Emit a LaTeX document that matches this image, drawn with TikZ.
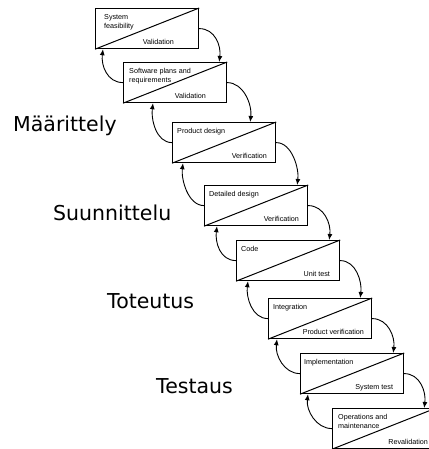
\documentclass[tikz,border=0pt]{standalone}
\usepackage{fontspec}
\setmainfont{Liberation Sans}
\newfontfamily\labelfont{DejaVu Sans}
\usetikzlibrary{arrows.meta,calc}
\begin{document}
\begin{tikzpicture}[x=1pt,y=-1pt,
  stagebox/.style={draw, line width=1.2pt, rectangle, minimum width=103pt, minimum height=40pt, anchor=north west, inner sep=0pt},
  diag/.style={line width=1pt},
  toptext/.style={anchor=north west, align=left, inner sep=0pt, font=\fontsize{7.2}{9}\selectfont},
  bottext/.style={anchor=base east, inner sep=0pt, font=\fontsize{7.2}{9}\selectfont},
  phase/.style={anchor=base west, inner sep=0pt, font=\labelfont\fontsize{20.5}{24}\selectfont},
  flow/.style={-{Latex[length=6pt,width=5pt]}, line width=0.9pt},
]
\useasboundingbox (0,0) rectangle (428,449);
% boxes
\node[stagebox] (b1) at (95,8) {};
\node[stagebox] (b2) at (123,62) {};
\node[stagebox] (b3) at (172,122) {};
\node[stagebox] (b4) at (204,185) {};
\node[stagebox] (b5) at (236,240) {};
\node[stagebox] (b6) at (268,298) {};
\node[stagebox] (b7) at (300,353) {};
\node[stagebox] (b8) at (332,408) {};
\foreach \b in {b1,b2,b3,b4,b5,b6,b7,b8}{
  \draw[diag] (\b.south west) -- (\b.north east);
}
% texts
\node[toptext] (t1) at ($(b1.north west)+(9,6)$) {System\\feasibility};
\node[bottext] (u1) at ($(b1.south east)+(-25,-5)$) {Validation};
\node[toptext] (t2) at ($(b2.north west)+(6,6)$) {Software plans and\\requirements};
\node[bottext] (u2) at ($(b2.south east)+(-21,-5)$) {Validation};
\node[toptext] (t3) at ($(b3.north west)+(5,6)$) {Product design};
\node[bottext] (u3) at ($(b3.south east)+(-9,-5)$) {Verification};
\node[toptext] (t4) at ($(b4.north west)+(5,6)$) {Detailed design};
\node[bottext] (u4) at ($(b4.south east)+(-9,-5)$) {Verification};
\node[toptext] (t5) at ($(b5.north west)+(5,6)$) {Code};
\node[bottext] (u5) at ($(b5.south east)+(-10,-5)$) {Unit test};
\node[toptext] (t6) at ($(b6.north west)+(5,6)$) {Integration};
\node[bottext] (u6) at ($(b6.south east)+(-8,-5)$) {Product verification};
\node[toptext] (t7) at ($(b7.north west)+(4,6)$) {Implementation};
\node[bottext] (u7) at ($(b7.south east)+(-11,-5)$) {System test};
\node[toptext] (t8) at ($(b8.north west)+(6,6)$) {Operations and\\maintenance};
\node[bottext] (u8) at ($(b8.south east)+(-8,-5)$) {Revalidation};
% forward arrows
\draw[flow] (b1.east) .. controls +(16,0) and +(2,-16) .. ($(b2.north east)+(-8,0)$);
\draw[flow] (b2.east) .. controls +(16,0) and +(2,-18) .. ($(b3.north east)+(-26,0)$);
\draw[flow] (b3.east) .. controls +(16,0) and +(2,-16) .. ($(b4.north east)+(-11,0)$);
\draw[flow] (b4.east) .. controls +(16,0) and +(2,-16) .. ($(b5.north east)+(-11,0)$);
\draw[flow] (b5.east) .. controls +(16,0) and +(2,-16) .. ($(b6.north east)+(-12,0)$);
\draw[flow] (b6.east) .. controls +(16,0) and +(2,-16) .. ($(b7.north east)+(-11,0)$);
\draw[flow] (b7.east) .. controls +(16,0) and +(2,-16) .. ($(b8.north east)+(-12,0)$);
% backward arrows
\draw[flow] (b2.west) .. controls +(-16,0) and +(-2,16) .. ($(b1.south west)+(8,0)$);
\draw[flow] (b3.west) .. controls +(-16,0) and +(-2,16) .. ($(b2.south west)+(30,0)$);
\draw[flow] (b4.west) .. controls +(-16,0) and +(-2,16) .. ($(b3.south west)+(11,0)$);
\draw[flow] (b5.west) .. controls +(-16,0) and +(-2,16) .. ($(b4.south west)+(13,0)$);
\draw[flow] (b6.west) .. controls +(-16,0) and +(-2,16) .. ($(b5.south west)+(12,0)$);
\draw[flow] (b7.west) .. controls +(-16,0) and +(-2,16) .. ($(b6.south west)+(9,0)$);
\draw[flow] (b8.west) .. controls +(-16,0) and +(-2,16) .. ($(b7.south west)+(8,0)$);
% phase labels
\node[phase] (p1) at (13,132) {Määrittely};
\node[phase] (p2) at (53,220) {Suunnittelu};
\node[phase] (p3) at (107,308) {Toteutus};
\node[phase] (p4) at (156,393) {Testaus};
\end{tikzpicture}
\end{document}
